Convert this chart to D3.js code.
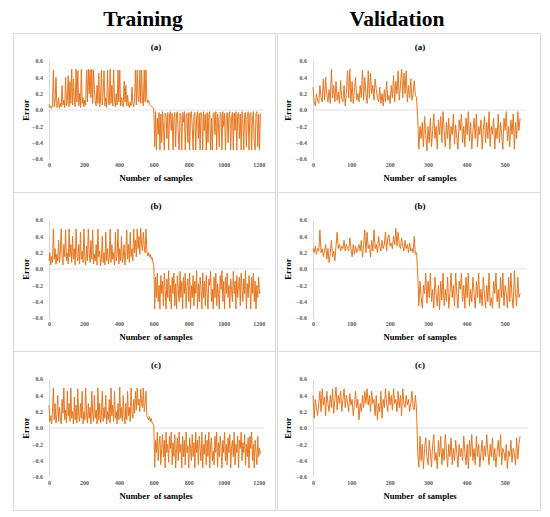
<!DOCTYPE html>
<html>
<head>
<meta charset="utf-8">
<script src="https://cdn.jsdelivr.net/npm/d3@7"></script>
<style>
  body { margin: 0; background: #fff; }
</style>
</head>
<body>
<svg id="chart" width="550" height="517"></svg>
<script>
const trainStep = 5;
const validStep = 3;

const trainA = [
  0.07, 0.03, 0.05, 0.02, 0.06, 0.49, 0.04, 0.10, 0.40, 0.03,
  0.05, 0.15, 0.02, 0.08, 0.04, 0.30, 0.06, 0.12, 0.03, 0.40,
  0.05, 0.10, 0.42, 0.04, 0.35, 0.08, 0.50, 0.06, 0.38, 0.12,
  0.04, 0.50, 0.10, 0.48, 0.05, 0.20, 0.03, 0.50, 0.08, 0.15,
  0.04, 0.12, 0.06, 0.49, 0.10, 0.50, 0.20, 0.49, 0.15, 0.50,
  0.08, 0.49, 0.25, 0.10, 0.05, 0.30, 0.08, 0.45, 0.04, 0.12,
  0.49, 0.06, 0.20, 0.48, 0.05, 0.15, 0.03, 0.49, 0.10, 0.06,
  0.50, 0.08, 0.30, 0.05, 0.49, 0.12, 0.04, 0.20, 0.06, 0.49,
  0.10, 0.49, 0.05, 0.15, 0.08, 0.04, 0.35, 0.10, 0.30, 0.05,
  0.18, 0.06, 0.03, 0.10, 0.05, 0.28, 0.08, 0.04, 0.12, 0.49,
  0.06, 0.49, 0.15, 0.10, 0.49, 0.08, 0.49, 0.12, 0.05, 0.49,
  0.10, 0.49, 0.14, 0.09, 0.12, 0.07, 0.06, 0.05, 0.04, 0.03,
  0.02,
  -0.45, -0.02, -0.49, -0.10, -0.30, -0.03, -0.49, -0.05, -0.40, -0.02,
  -0.20, -0.49, -0.04, -0.08, -0.35, -0.03, -0.49, -0.06, -0.02, -0.25,
  -0.04, -0.49, -0.10, -0.03, -0.45, -0.05, -0.02, -0.30, -0.49, -0.04,
  -0.06, -0.49, -0.03, -0.15, -0.02, -0.49, -0.08, -0.04, -0.40, -0.03,
  -0.49, -0.05, -0.02, -0.20, -0.49, -0.06, -0.03, -0.49, -0.10, -0.02,
  -0.35, -0.04, -0.49, -0.03, -0.08, -0.49, -0.02, -0.25, -0.05, -0.49,
  -0.03, -0.40, -0.06, -0.02, -0.49, -0.10, -0.49, -0.04, -0.03, -0.30,
  -0.02, -0.49, -0.05, -0.15, -0.45, -0.03, -0.06, -0.49, -0.02, -0.20,
  -0.04, -0.49, -0.08, -0.03, -0.40, -0.05, -0.02, -0.49, -0.10, -0.03,
  -0.49, -0.04, -0.25, -0.02, -0.49, -0.06, -0.03, -0.35, -0.05, -0.49,
  -0.02, -0.15, -0.49, -0.04, -0.03, -0.45, -0.08, -0.02, -0.49, -0.05,
  -0.03, -0.49, -0.10, -0.02, -0.40, -0.49, -0.04, -0.02, -0.45, -0.05,
  -0.49, -0.04
];

const trainB = [
  0.10, 0.20, 0.05, 0.15, 0.08, 0.49, 0.12, 0.25, 0.06, 0.18,
  0.10, 0.35, 0.08, 0.22, 0.49, 0.12, 0.05, 0.30, 0.15, 0.48,
  0.10, 0.20, 0.06, 0.49, 0.15, 0.30, 0.08, 0.40, 0.12, 0.25,
  0.05, 0.49, 0.18, 0.10, 0.30, 0.06, 0.45, 0.12, 0.22, 0.08,
  0.49, 0.15, 0.05, 0.28, 0.10, 0.49, 0.20, 0.08, 0.35, 0.12,
  0.48, 0.06, 0.18, 0.10, 0.30, 0.05, 0.49, 0.15, 0.22, 0.04,
  0.12, 0.40, 0.08, 0.20, 0.05, 0.45, 0.10, 0.25, 0.06, 0.15,
  0.49, 0.08, 0.30, 0.12, 0.20, 0.05, 0.45, 0.10, 0.18, 0.49,
  0.06, 0.25, 0.10, 0.40, 0.08, 0.15, 0.30, 0.05, 0.20, 0.48,
  0.12, 0.30, 0.08, 0.45, 0.15, 0.25, 0.10, 0.49, 0.20, 0.35,
  0.15, 0.49, 0.25, 0.40, 0.18, 0.50, 0.30, 0.22, 0.45, 0.28,
  0.20, 0.49, 0.22, 0.16, 0.20, 0.15, 0.18, 0.12, 0.14, 0.08,
  0.05,
  -0.49, -0.10, -0.35, -0.05, -0.40, -0.20, -0.49, -0.08, -0.30, -0.15,
  -0.45, -0.05, -0.25, -0.49, -0.12, -0.35, -0.02, -0.40, -0.20, -0.49,
  -0.10, -0.30, -0.05, -0.45, -0.18, -0.49, -0.08, -0.25, -0.40, -0.03,
  -0.35, -0.15, -0.49, -0.10, -0.30, -0.05, -0.48, -0.22, -0.12, -0.40,
  -0.05, -0.49, -0.20, -0.35, -0.08, -0.45, -0.15, -0.30, -0.02, -0.49,
  -0.18, -0.40, -0.10, -0.25, -0.49, -0.05, -0.35, -0.15, -0.45, -0.08,
  -0.30, -0.49, -0.12, -0.20, -0.03, -0.40, -0.25, -0.49, -0.10, -0.35,
  -0.05, -0.45, -0.18, -0.30, -0.49, -0.08, -0.25, -0.02, -0.40, -0.15,
  -0.49, -0.10, -0.30, -0.05, -0.35, -0.20, -0.48, -0.12, -0.25, -0.40,
  -0.03, -0.30, -0.15, -0.49, -0.08, -0.35, -0.20, -0.10, -0.45, -0.05,
  -0.25, -0.40, -0.12, -0.30, -0.02, -0.49, -0.18, -0.35, -0.08, -0.25,
  -0.49, -0.10, -0.30, -0.05, -0.40, -0.15, -0.49, -0.20, -0.35, -0.10,
  -0.30, -0.28
];

const trainC = [
  0.28, 0.08, 0.15, 0.05, 0.20, 0.49, 0.10, 0.30, 0.06, 0.15,
  0.40, 0.08, 0.25, 0.12, 0.05, 0.35, 0.18, 0.49, 0.10, 0.22,
  0.06, 0.45, 0.15, 0.30, 0.08, 0.49, 0.12, 0.20, 0.05, 0.38,
  0.10, 0.28, 0.06, 0.48, 0.15, 0.08, 0.30, 0.12, 0.45, 0.05,
  0.20, 0.10, 0.49, 0.15, 0.06, 0.30, 0.12, 0.25, 0.05, 0.45,
  0.18, 0.08, 0.40, 0.12, 0.22, 0.05, 0.49, 0.10, 0.30, 0.06,
  0.15, 0.45, 0.08, 0.25, 0.12, 0.40, 0.05, 0.20, 0.10, 0.35,
  0.06, 0.49, 0.15, 0.28, 0.08, 0.45, 0.12, 0.20, 0.05, 0.30,
  0.10, 0.50, 0.12, 0.25, 0.08, 0.40, 0.15, 0.05, 0.30, 0.10,
  0.45, 0.15, 0.25, 0.08, 0.49, 0.20, 0.12, 0.35, 0.18, 0.45,
  0.22, 0.49, 0.28, 0.35, 0.20, 0.48, 0.30, 0.25, 0.49, 0.20,
  0.30, 0.45, 0.15, 0.12, 0.10, 0.14, 0.08, 0.12, 0.06, 0.05,
  0.03,
  -0.48, -0.15, -0.30, -0.05, -0.40, -0.20, -0.10, -0.45, -0.25, -0.08,
  -0.35, -0.15, -0.49, -0.05, -0.30, -0.20, -0.42, -0.10, -0.25, -0.05,
  -0.45, -0.18, -0.35, -0.08, -0.49, -0.25, -0.12, -0.40, -0.05, -0.30,
  -0.20, -0.49, -0.10, -0.35, -0.15, -0.45, -0.05, -0.30, -0.22, -0.49,
  -0.12, -0.25, -0.40, -0.08, -0.35, -0.18, -0.49, -0.05, -0.30, -0.15,
  -0.45, -0.10, -0.25, -0.40, -0.05, -0.49, -0.20, -0.32, -0.08, -0.45,
  -0.15, -0.35, -0.05, -0.49, -0.22, -0.12, -0.40, -0.28, -0.45, -0.10,
  -0.30, -0.05, -0.48, -0.18, -0.35, -0.10, -0.25, -0.49, -0.15, -0.30,
  -0.05, -0.40, -0.20, -0.45, -0.12, -0.30, -0.08, -0.49, -0.25, -0.15,
  -0.35, -0.05, -0.45, -0.20, -0.30, -0.10, -0.49, -0.15, -0.25, -0.05,
  -0.40, -0.18, -0.30, -0.08, -0.45, -0.20, -0.35, -0.12, -0.49, -0.10,
  -0.25, -0.05, -0.40, -0.20, -0.49, -0.15, -0.30, -0.45, -0.10, -0.35,
  -0.25, -0.32
];

const validA = [
  0.28, 0.10, 0.05, 0.20, 0.12, 0.08, 0.30, 0.15, 0.10, 0.38,
  0.12, 0.40, 0.18, 0.10, 0.25, 0.08, 0.50, 0.15, 0.30, 0.10,
  0.35, 0.12, 0.22, 0.08, 0.36, 0.15, 0.10, 0.30, 0.05, 0.20,
  0.48, 0.15, 0.50, 0.10, 0.35, 0.08, 0.25, 0.40, 0.12, 0.20,
  0.10, 0.30, 0.15, 0.49, 0.12, 0.40, 0.20, 0.08, 0.48, 0.15,
  0.45, 0.20, 0.30, 0.12, 0.38, 0.25, 0.15, 0.10, 0.28, 0.08,
  0.20, 0.05, 0.25, 0.10, 0.35, 0.12, 0.18, 0.08, 0.30, 0.15,
  0.42, 0.10, 0.35, 0.20, 0.48, 0.12, 0.30, 0.50, 0.15, 0.45,
  0.20, 0.48, 0.10, 0.30, 0.15, 0.38, 0.12, 0.20, 0.36, 0.18,
  0.15,
  -0.10, -0.48, -0.20, -0.35, -0.15, -0.45, -0.08, -0.30, -0.50, -0.20,
  -0.40, -0.10, -0.45, -0.25, -0.05, -0.35, -0.20, -0.48, -0.12, -0.30,
  -0.08, -0.40, -0.02, -0.25, -0.45, -0.15, -0.35, -0.10, -0.48, -0.20,
  -0.30, -0.05, -0.42, -0.18, -0.35, -0.48, -0.12, -0.25, -0.05, -0.40,
  -0.20, -0.45, -0.10, -0.30, -0.02, -0.38, -0.15, -0.48, -0.25, -0.10,
  -0.35, -0.05, -0.45, -0.20, -0.30, -0.12, -0.48, -0.25, -0.08, -0.40,
  -0.15, -0.35, -0.02, -0.45, -0.20, -0.30, -0.10, -0.48, -0.22, -0.35,
  -0.05, -0.40, -0.15, -0.30, -0.48, -0.10, -0.25, -0.02, -0.38, -0.20,
  -0.45, -0.12, -0.30, -0.05, -0.48, -0.15, -0.35, -0.02, -0.25, -0.10
];

const validB = [
  0.25, 0.20, 0.28, 0.18, 0.25, 0.22, 0.48, 0.20, 0.25, 0.15,
  0.22, 0.30, 0.12, 0.25, 0.08, 0.20, 0.35, 0.15, 0.22, 0.10,
  0.28, 0.45, 0.25, 0.30, 0.22, 0.28, 0.25, 0.35, 0.22, 0.30,
  0.25, 0.22, 0.38, 0.25, 0.15, 0.30, 0.18, 0.28, 0.20, 0.25,
  0.30, 0.22, 0.35, 0.15, 0.30, 0.48, 0.20, 0.45, 0.25, 0.30,
  0.15, 0.35, 0.22, 0.48, 0.25, 0.30, 0.20, 0.40, 0.28, 0.22,
  0.35, 0.25, 0.30, 0.45, 0.22, 0.38, 0.42, 0.28, 0.32, 0.25,
  0.40, 0.30, 0.50, 0.28, 0.45, 0.30, 0.25, 0.38, 0.28, 0.22,
  0.35, 0.25, 0.30, 0.20, 0.32, 0.22, 0.25, 0.20, 0.40, 0.18,
  0.20,
  -0.05, -0.45, -0.15, -0.35, -0.48, -0.20, -0.30, -0.05, -0.42, -0.15,
  -0.35, -0.05, -0.40, -0.25, -0.48, -0.10, -0.30, -0.45, -0.20, -0.50,
  -0.15, -0.38, -0.05, -0.45, -0.25, -0.40, -0.10, -0.48, -0.30, -0.05,
  -0.35, -0.20, -0.45, -0.05, -0.30, -0.48, -0.15, -0.25, -0.05, -0.40,
  -0.20, -0.48, -0.10, -0.35, -0.05, -0.45, -0.25, -0.40, -0.10, -0.30,
  -0.48, -0.15, -0.35, -0.05, -0.42, -0.25, -0.45, -0.10, -0.30, -0.48,
  -0.20, -0.40, -0.05, -0.45, -0.35, -0.48, -0.15, -0.30, -0.05, -0.40,
  -0.25, -0.48, -0.10, -0.35, -0.05, -0.45, -0.20, -0.30, -0.48, -0.10,
  -0.40, -0.05, -0.35, -0.48, -0.02, -0.30, -0.45, -0.10, -0.35, -0.30
];

const validC = [
  0.40, 0.12, 0.35, 0.25, 0.15, 0.30, 0.45, 0.20, 0.48, 0.28,
  0.38, 0.15, 0.45, 0.30, 0.20, 0.40, 0.25, 0.48, 0.18, 0.35,
  0.50, 0.22, 0.40, 0.30, 0.45, 0.20, 0.35, 0.48, 0.25, 0.40,
  0.30, 0.20, 0.42, 0.28, 0.35, 0.15, 0.30, 0.45, 0.25, 0.35,
  0.10, 0.30, 0.20, 0.40, 0.25, 0.45, 0.30, 0.48, 0.28, 0.40,
  0.20, 0.45, 0.30, 0.35, 0.15, 0.40, 0.10, 0.30, 0.20, 0.45,
  0.12, 0.35, 0.25, 0.48, 0.30, 0.20, 0.45, 0.28, 0.40, 0.22,
  0.48, 0.30, 0.35, 0.20, 0.45, 0.25, 0.40, 0.15, 0.48, 0.30,
  0.25, 0.40, 0.28, 0.35, 0.20, 0.30, 0.45, 0.25, 0.22, 0.40,
  0.22,
  -0.30, -0.48, -0.10, -0.40, -0.20, -0.50, -0.25, -0.12, -0.35, -0.45,
  -0.15, -0.30, -0.48, -0.20, -0.08, -0.40, -0.30, -0.50, -0.15, -0.35,
  -0.10, -0.45, -0.25, -0.40, -0.08, -0.30, -0.48, -0.20, -0.35, -0.12,
  -0.45, -0.25, -0.40, -0.15, -0.30, -0.48, -0.20, -0.35, -0.25, -0.40,
  -0.10, -0.30, -0.45, -0.20, -0.50, -0.15, -0.35, -0.08, -0.40, -0.25,
  -0.45, -0.10, -0.35, -0.20, -0.48, -0.30, -0.15, -0.40, -0.22, -0.35,
  -0.08, -0.30, -0.45, -0.20, -0.35, -0.12, -0.40, -0.25, -0.48, -0.30,
  -0.15, -0.35, -0.08, -0.45, -0.25, -0.30, -0.40, -0.20, -0.50, -0.28,
  -0.35, -0.15, -0.42, -0.25, -0.30, -0.45, -0.12, -0.38, -0.20, -0.10
];

const columnTitles = ['Training', 'Validation'];
const panelLabels = ['(a)', '(b)', '(c)'];
const yTicks = [-0.6, -0.4, -0.2, 0.0, 0.2, 0.4, 0.6];
const trainTicks = [0, 200, 400, 600, 800, 1000, 1200];
const validTicks = [0, 100, 200, 300, 400, 500];
const trainMax = 1225;
const validMax = 558;

const svg = d3.select('#chart');
const serif = '"Liberation Serif", "Times New Roman", serif';
const orange = '#E8761E';
const grey = '#d9d9d9';

// panel grid
const colX = [13, 277];
const colW = [262, 263];
const rowY = [33, 192, 351];
const rowH = 159;

const columns = [
  { series: [trainA, trainB, trainC], step: trainStep, max: trainMax, ticks: trainTicks },
  { series: [validA, validB, validC], step: validStep, max: validMax, ticks: validTicks },
];

columnTitles.forEach((t, c) => {
  svg.append('text')
    .attr('x', colX[c] + (c === 0 ? 130 : 120))
    .attr('y', 26)
    .attr('text-anchor', 'middle')
    .style('font-family', serif)
    .style('font-size', '21.5px')
    .style('font-weight', 'bold')
    .text(t);
});

const drawPanel = (c, r) => {
  const col = columns[c];
  const values = col.series[r];
  const g = svg.append('g').attr('transform', `translate(${colX[c]},${rowY[r]})`);

  g.append('rect')
    .attr('x', 0.5).attr('y', 0.5)
    .attr('width', colW[c]).attr('height', rowH)
    .attr('fill', 'none')
    .attr('stroke', grey)
    .attr('stroke-width', 1);

  const left = 36;
  const right = 250;
  const x = d3.scaleLinear().domain([0, col.max]).range([left, right]);
  const y = d3.scaleLinear().domain([-0.6, 0.6]).range([126, 28]);

  // y axis
  const yAxis = g.append('g')
    .attr('transform', `translate(${left},0)`)
    .call(d3.axisLeft(y).tickValues(yTicks).tickSize(0).tickPadding(6).tickFormat(d3.format('.1f')));
  yAxis.select('.domain').attr('stroke', grey);
  yAxis.selectAll('text')
    .style('font-family', serif)
    .style('font-size', '6px')
    .style('font-weight', 'bold')
    .attr('fill', '#595959');

  // x tick labels below plot
  const xAxis = g.append('g')
    .attr('transform', 'translate(0,130)')
    .call(d3.axisBottom(x).tickValues(col.ticks).tickSize(0).tickPadding(0).tickFormat(d3.format('d')));
  xAxis.select('.domain').remove();
  xAxis.selectAll('text')
    .style('font-family', serif)
    .style('font-size', '6px')
    .style('font-weight', 'bold')
    .attr('fill', '#595959');

  // zero line
  g.append('line')
    .attr('x1', left).attr('x2', right)
    .attr('y1', y(0)).attr('y2', y(0))
    .attr('stroke', grey)
    .attr('stroke-width', 0.8);

  const line = d3.line()
    .x((d, i) => x(i * col.step))
    .y((d) => y(d));

  g.append('path')
    .datum(values)
    .attr('d', line)
    .attr('fill', 'none')
    .attr('stroke', orange)
    .attr('stroke-width', 1);

  g.append('text')
    .attr('x', (left + right) / 2)
    .attr('y', 17)
    .attr('text-anchor', 'middle')
    .style('font-family', serif)
    .style('font-size', '9px')
    .style('font-weight', 'bold')
    .text(panelLabels[r]);

  g.append('text')
    .attr('x', (left + right) / 2)
    .attr('y', 148)
    .attr('text-anchor', 'middle')
    .style('font-family', serif)
    .style('font-size', '8.6px')
    .style('font-weight', 'bold')
    .style('white-space', 'pre')
    .text('Number  of samples');

  g.append('text')
    .attr('transform', `translate(${c === 0 ? 16 : 14},${y(0)}) rotate(-90)`)
    .attr('text-anchor', 'middle')
    .style('font-family', serif)
    .style('font-size', '8.6px')
    .style('font-weight', 'bold')
    .text('Error');
};

columns.forEach((col, c) => {
  panelLabels.forEach((lab, r) => drawPanel(c, r));
});
</script>
</body>
</html>
